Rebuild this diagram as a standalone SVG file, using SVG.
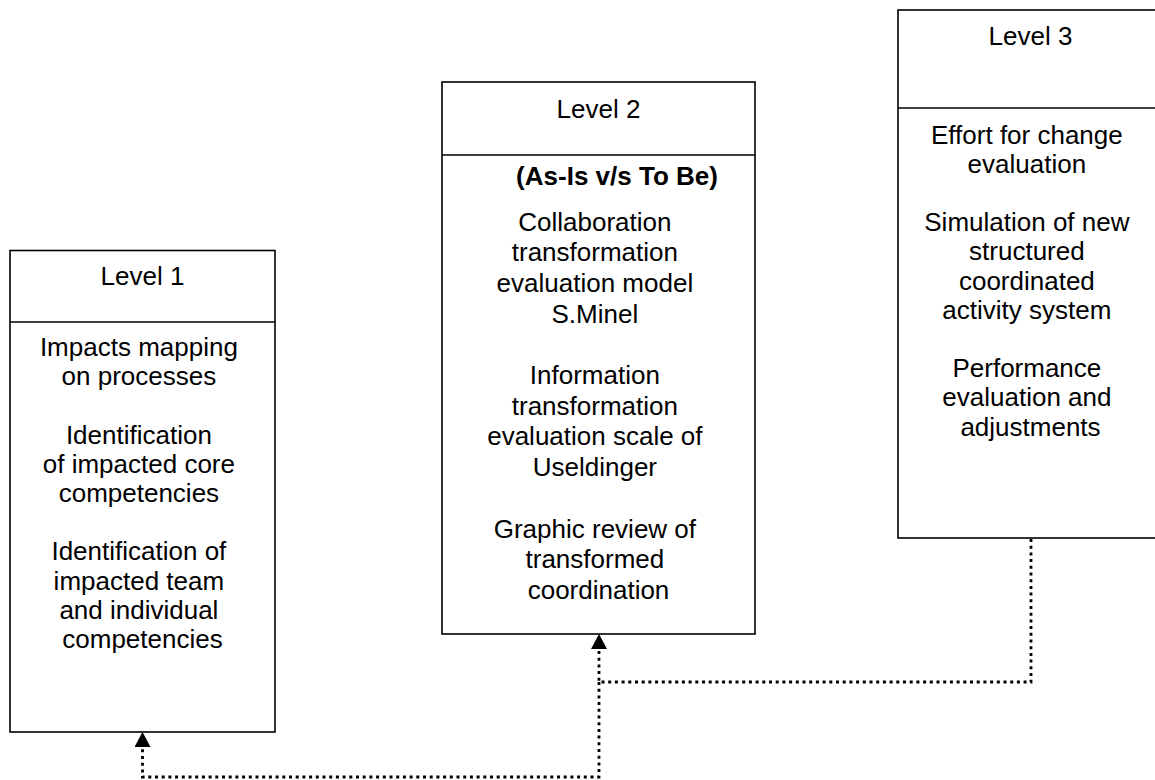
<svg xmlns="http://www.w3.org/2000/svg" width="1155" height="780" viewBox="0 0 1155 780">
<style>
.box{fill:#fff;stroke:#000;stroke-width:1.6}
.div{stroke:#000;stroke-width:1.6}
.t{font-family:"Liberation Sans",Arial,sans-serif;font-size:26px;fill:#000;text-anchor:middle}
.b{font-weight:bold}
.c{fill:none;stroke:#000;stroke-width:2.8;stroke-dasharray:3 3.7}
</style>
<defs>
<marker id="ah" markerUnits="userSpaceOnUse" markerWidth="15" markerHeight="16" viewBox="0 0 15 16" refX="0" refY="8" orient="auto">
<path d="M0,0 L15,8 L0,16 z" fill="#000"/>
</marker>
</defs>
<rect width="1155" height="780" fill="#fff"/>
<g id="level1">
<rect class="box" x="10" y="250.5" width="265" height="481.5"/>
<line class="div" x1="10" y1="322" x2="275" y2="322"/>
<text class="t" x="142.5" y="284.5">Level 1</text>
<text class="t" x="142.5">
<tspan x="142.5" y="356">Impacts mapping</tspan>
<tspan x="142.5" y="385.2">on processes</tspan>
<tspan x="142.5" y="443.6">Identification</tspan>
<tspan x="142.5" y="472.8">of impacted core</tspan>
<tspan x="142.5" y="502">competencies</tspan>
<tspan x="142.5" y="560.4">Identification of</tspan>
<tspan x="142.5" y="589.6">impacted team</tspan>
<tspan x="142.5" y="618.8">and individual</tspan>
<tspan x="142.5" y="648">competencies</tspan>
</text>
</g>
<g id="level2">
<rect class="box" x="442" y="82" width="313" height="552"/>
<line class="div" x1="442" y1="155" x2="755" y2="155"/>
<text class="t" x="598.5" y="117.5">Level 2</text>
<text class="t b" x="617" y="185">(As-Is v/s To Be)</text>
<text class="t" x="598.5">
<tspan x="598.5" y="230.5">Collaboration</tspan>
<tspan x="598.5" y="261.2">transformation</tspan>
<tspan x="598.5" y="291.9">evaluation model</tspan>
<tspan x="598.5" y="322.6">S.Minel</tspan>
<tspan x="598.5" y="384">Information</tspan>
<tspan x="598.5" y="414.7">transformation</tspan>
<tspan x="598.5" y="445.4">evaluation scale of</tspan>
<tspan x="598.5" y="476.1">Useldinger</tspan>
<tspan x="598.5" y="537.5">Graphic review of</tspan>
<tspan x="598.5" y="568.2">transformed</tspan>
<tspan x="598.5" y="598.9">coordination</tspan>
</text>
</g>
<g id="level3">
<rect class="box" x="898" y="10" width="265" height="528"/>
<line class="div" x1="898" y1="108" x2="1163" y2="108"/>
<text class="t" x="1030.5" y="45">Level 3</text>
<text class="t" x="1030.5">
<tspan x="1030.5" y="143.5">Effort for change</tspan>
<tspan x="1030.5" y="172.7">evaluation</tspan>
<tspan x="1030.5" y="231.1">Simulation of new</tspan>
<tspan x="1030.5" y="260.3">structured</tspan>
<tspan x="1030.5" y="289.5">coordinated</tspan>
<tspan x="1030.5" y="318.7">activity system</tspan>
<tspan x="1030.5" y="377.1">Performance</tspan>
<tspan x="1030.5" y="406.3">evaluation and</tspan>
<tspan x="1030.5" y="435.5">adjustments</tspan>
</text>
</g>
<g id="connectors">
<path class="c" d="M1031,539 V682 H599 V649" marker-end="url(#ah)"/>
<path class="c" d="M599,682 V777 H142.5 V747" marker-end="url(#ah)"/>
</g>
</svg>
